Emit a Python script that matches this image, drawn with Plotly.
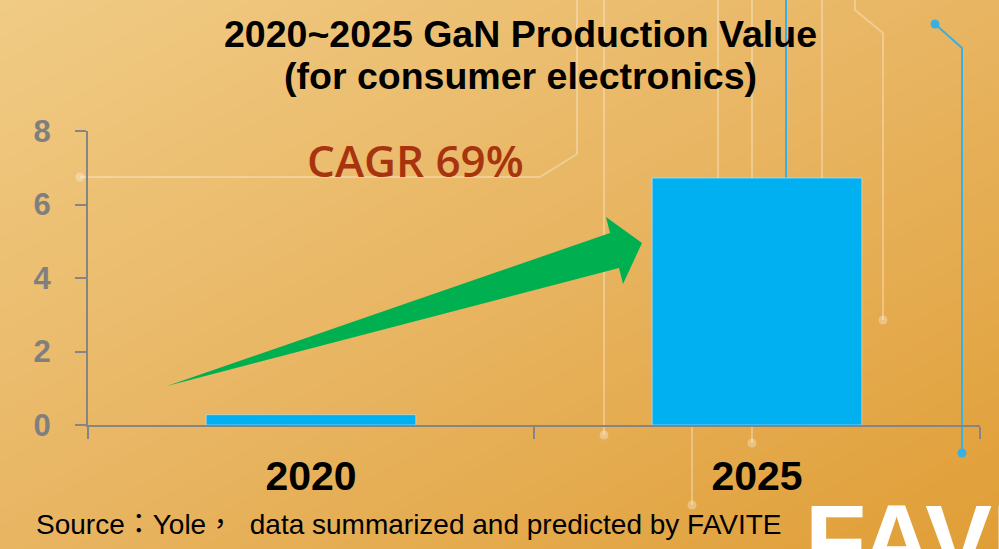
import plotly.graph_objects as go

# data
years = ["2020", "2025"]
values = [0.28, 6.72]
y_ticks = [0, 2, 4, 6, 8]

title_1 = "2020~2025 GaN Production Value"
title_2 = "(for consumer electronics)"
cagr = "CAGR 69%"
source = "Source：Yole，  data summarized and predicted by FAVITE"

W, H = 999, 549
BAR = "#00B0F0"
GRAY = "#858585"

fig = go.Figure()

# background gradient (pixel axes x / y)
fig.add_trace(go.Heatmap(
    z=[[0, 1], [1, 2]], x=[0, W], y=[0, H],
    colorscale=[[0, "#F0CB84"], [0.5, "#E8B562"], [1, "#E09E36"]],
    zsmooth="best", showscale=False, hoverinfo="skip"))

# circuit decoration
light = "rgba(255,255,255,0.3)"
blue = "#3AAFE3"
paths = [
    ([80, 540, 577, 577], [177, 177, 154, 0], light, [0]),
    ([604, 604], [0, 435], light, [1]),
    ([718, 718], [0, 425], light, []),
    ([752, 752], [0, 443], light, [1]),
    ([822, 822], [0, 425], light, []),
    ([855, 855, 883, 883], [0, 10, 33, 320], light, [3]),
    ([692, 692], [425, 505], light, [1]),
    ([786, 786], [0, 425], blue, []),
    ([935, 962, 962], [24, 48, 453], blue, [0, 2]),
]
for px, py, col, dots in paths:
    fig.add_trace(go.Scatter(x=px, y=py, mode="lines", line=dict(color=col, width=2),
                             hoverinfo="skip", showlegend=False))
    if dots:
        fig.add_trace(go.Scatter(x=[px[i] for i in dots], y=[py[i] for i in dots],
                                 mode="markers", marker=dict(color=col, size=9),
                                 hoverinfo="skip", showlegend=False))

# bars
fig.add_trace(go.Bar(x=years, y=values, marker_color=BAR, width=0.47,
                     xaxis="x2", yaxis="y2", showlegend=False, hoverinfo="skip"))

fig.update_layout(
    width=W, height=H,
    margin=dict(l=0, r=0, t=0, b=0, autoexpand=False),
    paper_bgcolor="#E8B562",
    plot_bgcolor="rgba(0,0,0,0)",
    showlegend=False,
    xaxis=dict(domain=[0, 1], range=[0, W], visible=False, fixedrange=True),
    yaxis=dict(domain=[0, 1], range=[H, 0], visible=False, fixedrange=True),
    xaxis2=dict(domain=[88 / W, 980 / W], anchor="y2", type="category",
                showline=True, linecolor=GRAY, linewidth=2,
                ticks="outside", tickson="boundaries", ticklen=12, tickcolor=GRAY, tickwidth=2,
                tickfont=dict(family="Liberation Sans, Arial", size=41, color="black", weight="bold"),
                ticklabelstandoff=14, showgrid=False),
    yaxis2=dict(domain=[(H - 425) / H, (H - 131) / H], anchor="x2", range=[0, 8],
                tickvals=y_ticks, showline=True, linecolor=GRAY, linewidth=2,
                ticks="outside", ticklen=11, tickcolor=GRAY, tickwidth=2,
                tickfont=dict(family="Liberation Sans, Arial", size=31, color="#7F7F7F", weight="bold"),
                ticklabelstandoff=18, showgrid=False, zeroline=False),
    shapes=[dict(type="path", xref="x", yref="y", layer="above",
                 path="M 167 386 L 610 233 L 606 217 L 642 243 L 623 284 L 619 268 Z",
                 fillcolor="#00B050", line=dict(width=0))],
    annotations=[
        dict(x=520, y=34, xref="x", yref="y", text=title_1, showarrow=False,
             font=dict(family="Liberation Sans, Arial", size=37.5, color="black", weight="bold")),
        dict(x=520, y=76, xref="x", yref="y", text=title_2, showarrow=False,
             font=dict(family="Liberation Sans, Arial", size=37.5, color="black", weight="bold")),
        dict(x=305, y=160, xref="x", yref="y", text=cagr, showarrow=False, xanchor="left",
             font=dict(family="Open Sans", size=44, color="#A8340F", weight=600)),
        dict(x=34, y=524, xref="x", yref="y", text=source, showarrow=False, xanchor="left",
             font=dict(family="Liberation Sans, Noto Sans CJK TC", size=28, color="black")),
        dict(x=803, y=482, xref="x", yref="y", text="FAVITE", showarrow=False,
             xanchor="left", yanchor="top",
             font=dict(family="Liberation Sans, Arial", size=100, color="white", weight="bold")),
    ],
)

fig.write_html("out.html", config={"displayModeBar": False},
               post_script="document.body.style.margin='0';")
